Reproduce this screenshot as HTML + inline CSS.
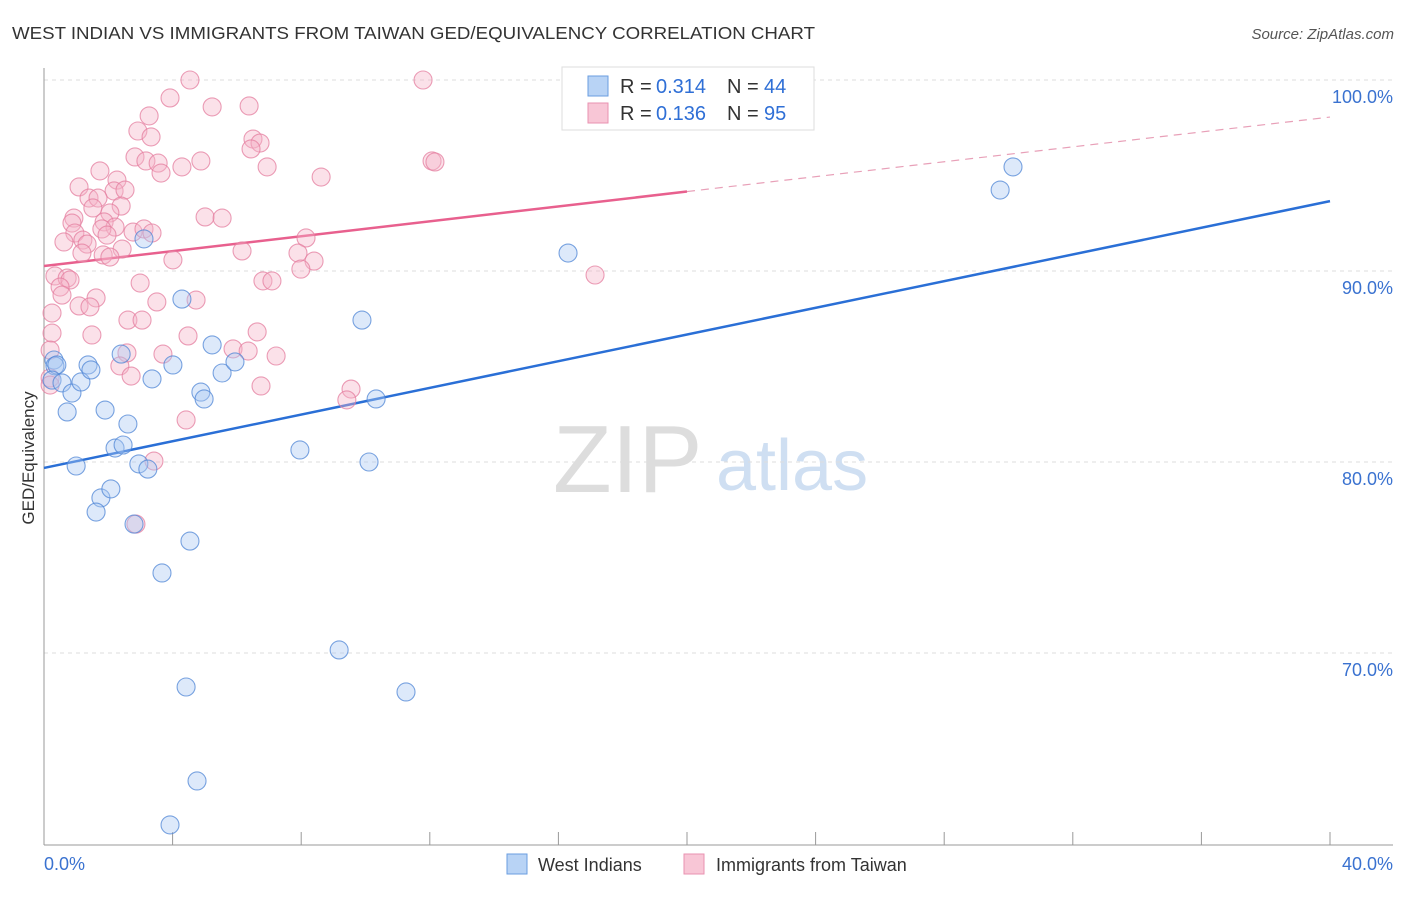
<!DOCTYPE html>
<html><head><meta charset="utf-8"><style>
body{margin:0;background:#fff;font-family:"Liberation Sans",sans-serif;}
svg text{font-family:"Liberation Sans",sans-serif;}
</style></head><body>
<svg id="chart" width="1406" height="892" xmlns="http://www.w3.org/2000/svg">
<text x="12" y="39" font-size="17.5" fill="#333" textLength="803" lengthAdjust="spacingAndGlyphs">WEST INDIAN VS IMMIGRANTS FROM TAIWAN GED/EQUIVALENCY CORRELATION CHART</text>
<text x="1394" y="39" font-size="15" fill="#555" font-style="italic" text-anchor="end">Source: ZipAtlas.com</text>
<g>
<text x="553" y="492" font-size="96" fill="#ddd" font-family="Liberation Serif">ZIP</text>
<text x="716" y="490" font-size="72" fill="#cfdff2">atlas</text>
</g>
<g id="grid"></g>
<g id="axes"></g>
<g id="trend"></g>
<g id="pts"></g>
<text x="34" y="458" font-size="17" fill="#333" text-anchor="middle" transform="rotate(-90 34 458)">GED/Equivalency</text>
<g>
<rect x="562" y="67" width="252" height="63" fill="#fff" stroke="#ddd"/>
<rect x="588" y="76" width="20" height="20" fill="#b8d3f5" stroke="#6a9ee0"/>
<rect x="588" y="103" width="20" height="20" fill="#f8c6d6" stroke="#e992b0"/>
<text x="620" y="93" font-size="20" fill="#333">R =</text>
<text x="656" y="93" font-size="20" fill="#2f6fd6">0.314</text>
<text x="727" y="93" font-size="20" fill="#333">N =</text>
<text x="764" y="93" font-size="20" fill="#2f6fd6">44</text>
<text x="620" y="120" font-size="20" fill="#333">R =</text>
<text x="656" y="120" font-size="20" fill="#2f6fd6">0.136</text>
<text x="727" y="120" font-size="20" fill="#333">N =</text>
<text x="764" y="120" font-size="20" fill="#2f6fd6">95</text>
</g>
<g>
<rect x="507" y="854" width="20" height="20" fill="#b8d3f5" stroke="#6a9ee0"/>
<text x="538" y="871" font-size="18" fill="#333">West Indians</text>
<rect x="684" y="854" width="20" height="20" fill="#f8c6d6" stroke="#e992b0"/>
<text x="716" y="871" font-size="18" fill="#333">Immigrants from Taiwan</text>
</g>
</svg>
<script>
const yTicks=[100,90,80,70];
const yTickLabels=["100.0%","90.0%","80.0%","70.0%"];
const xTicks=[0,4,8,12,16,20,24,28,32,36,40];
const blueX=[0.31,0.34,0.40,0.25,0.56,0.72,0.87,1.00,1.15,1.37,1.46,1.90,1.77,1.62,2.08,2.21,2.46,2.61,2.40,2.80,2.95,3.23,3.36,3.11,3.67,4.01,4.29,4.42,4.54,4.76,3.92,4.88,4.98,5.23,5.54,5.94,7.96,9.18,9.89,10.11,10.33,11.26,16.30,29.74,30.14];
const blueY=[85.34,85.03,85.08,84.29,84.14,82.62,83.61,79.79,84.19,85.08,84.82,82.72,78.12,77.38,78.59,80.73,80.89,81.99,85.65,76.75,79.90,79.63,84.35,91.68,74.19,85.08,88.53,68.22,75.86,63.30,61.0,83.66,83.30,86.13,84.66,85.24,80.63,70.16,87.43,80.0,83.30,67.96,90.94,94.24,95.45];
const pinkX=[4.54,11.79,3.92,5.23,6.38,3.27,2.92,3.33,6.50,6.72,6.44,2.83,3.17,3.55,3.64,4.29,4.88,6.94,12.07,12.16,8.62,1.74,1.09,2.27,2.18,2.52,1.40,1.68,1.52,2.40,0.93,2.05,1.87,2.21,1.80,1.96,0.87,0.96,5.01,5.54,2.77,3.11,3.36,0.62,1.21,1.34,1.18,2.43,1.84,2.05,4.01,6.16,8.15,7.90,8.40,7.99,6.81,7.09,0.34,0.72,0.81,0.50,0.56,2.99,1.62,1.09,1.43,4.73,3.51,0.25,0.25,1.49,2.61,3.05,4.48,6.63,0.19,2.58,2.36,2.71,3.70,5.88,6.35,7.22,0.19,0.19,6.75,9.55,9.42,4.42,3.42,17.14,2.86];
const pinkY=[100,100,99.06,98.59,98.64,98.12,97.33,97.02,96.91,96.70,96.39,95.97,95.76,95.65,95.13,95.45,95.76,95.45,95.76,95.71,94.92,95.24,94.40,94.76,94.19,94.24,93.82,93.82,93.30,93.40,92.77,93.04,92.57,92.30,92.20,91.88,92.51,91.99,92.83,92.77,92.04,92.20,91.99,91.52,91.62,91.41,90.94,91.15,90.84,90.73,90.58,91.05,91.73,90.94,90.52,90.10,89.48,89.48,89.74,89.63,89.53,89.16,88.74,89.37,88.59,88.17,88.12,88.48,88.38,87.80,86.75,86.65,87.43,87.43,86.60,86.81,85.86,85.71,85.03,84.50,85.65,85.92,85.81,85.55,84.40,84.03,83.98,83.82,83.25,82.20,80.05,89.79,76.75];
const trendBlue=[79.69,93.66];
const trendPink=[90.26,98.06];
const pinkSolidEnd=20;
const NS="http://www.w3.org/2000/svg";
const X=v=>44+v*32.15;
const Y=v=>80+(100-v)*19.1;
function mk(tag,attrs,parent){const e=document.createElementNS(NS,tag);for(const k in attrs)e.setAttribute(k,attrs[k]);parent.appendChild(e);return e;}
const grid=document.getElementById('grid'),axes=document.getElementById('axes'),trend=document.getElementById('trend'),pts=document.getElementById('pts');
yTicks.forEach((t,i)=>{
  const l=mk('line',{x1:44,x2:1393,y1:Y(t),y2:Y(t),stroke:'#ddd','stroke-dasharray':'4,4'},grid);
  
  
  const tx=mk('text',{x:1393,y:Y(t)+23,'font-size':18,fill:'#3a72d0','text-anchor':'end'},grid);
  tx.textContent=yTickLabels[i];
  
  
});
let a=mk('line',{x1:44,x2:44,y1:68,y2:845,stroke:'#999'},axes);


a=mk('line',{x1:44,x2:1393,y1:845,y2:845,stroke:'#999'},axes);


xTicks.forEach(t=>{
  const l=mk('line',{x1:X(t),x2:X(t),y1:832,y2:845,stroke:'#999'},axes);
  
  
});
let t=mk('text',{x:44,y:870,'font-size':18,fill:'#3a72d0'},axes);t.textContent='0.0%';


t=mk('text',{x:1393,y:870,'font-size':18,fill:'#3a72d0','text-anchor':'end'},axes);t.textContent='40.0%';


function drawPts(xs,ys,fill,stroke,name){
  xs.forEach((v,i)=>{
    const c=mk('circle',{cx:X(v),cy:Y(ys[i]),r:9,fill:fill,'fill-opacity':0.4,stroke:stroke,'stroke-width':1.1,'stroke-opacity':0.75},pts);
    
    
  });
}
drawPts(pinkX,pinkY,'#f5b3c9','#e47d9f','point-taiwan');
drawPts(blueX,blueY,'#a9c9f2','#4f86d6','point-west-indian');
const pAt=v=>trendPink[0]+(trendPink[1]-trendPink[0])*v/40;
let tl=mk('line',{x1:X(pinkSolidEnd),y1:Y(pAt(pinkSolidEnd)),x2:X(40),y2:Y(pAt(40)),stroke:'#e8a0b8','stroke-width':1.2,'stroke-dasharray':'8,6'},trend);


tl=mk('line',{x1:X(0),y1:Y(pAt(0)),x2:X(pinkSolidEnd),y2:Y(pAt(pinkSolidEnd)),stroke:'#e8608e','stroke-width':2.5},trend);


tl=mk('line',{x1:X(0),y1:Y(trendBlue[0]),x2:X(40),y2:Y(trendBlue[1]),stroke:'#2a6fd6','stroke-width':2.5},trend);


</script>
</body></html>
